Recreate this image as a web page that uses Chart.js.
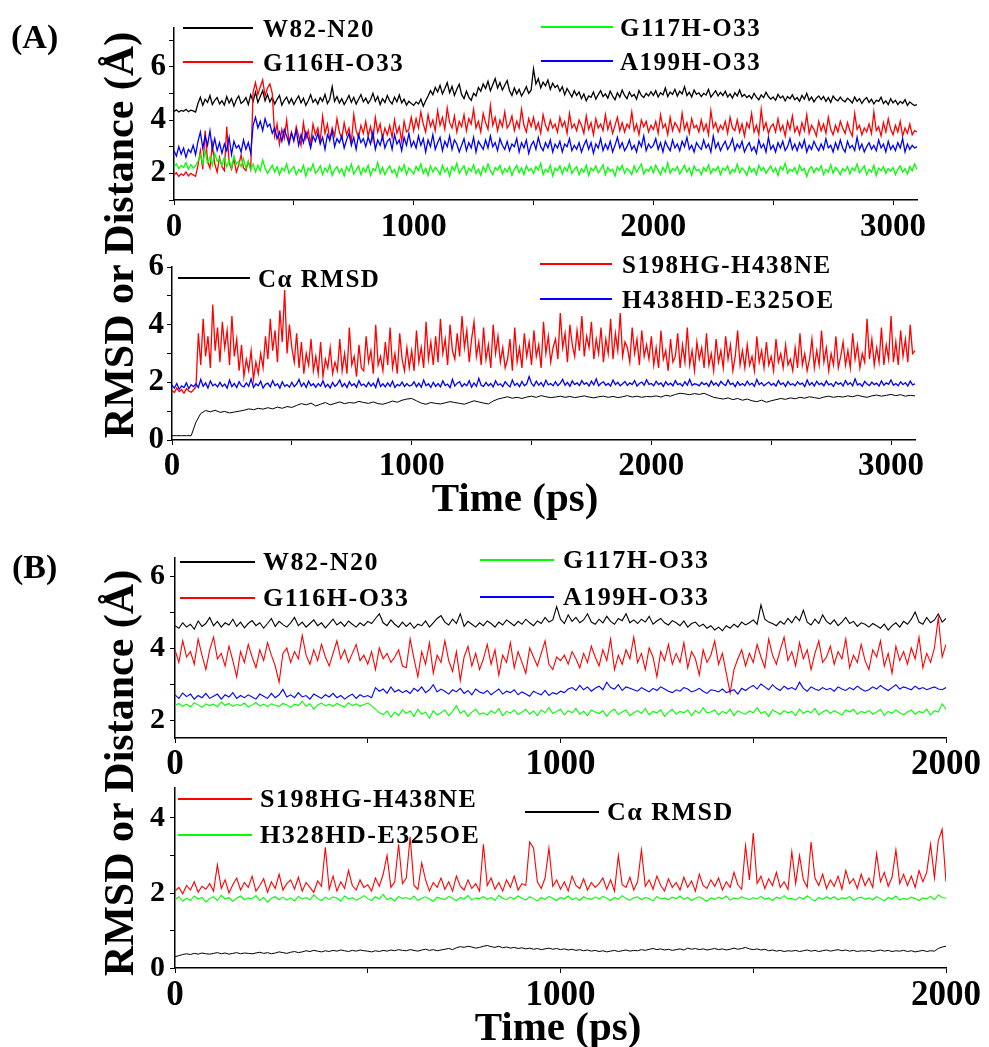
<!DOCTYPE html>
<html>
<head>
<meta charset="utf-8">
<script src="https://cdn.jsdelivr.net/npm/chart.js@4.4.1/dist/chart.umd.min.js"></script>
<style>
  body { margin: 0; background: #fff; }
  #page { position: relative; width: 989px; height: 1047px; overflow: hidden; font-family: "Liberation Serif", "Times New Roman", serif; font-weight: bold; color: #000; }
  #page canvas { position: absolute; left: 0; }
  .txt { position: absolute; white-space: nowrap; }
  .leg { position: absolute; height: 2px; }
</style>
</head>
<body>
<div id="page">
  <canvas id="aTop"></canvas>
  <canvas id="aBot"></canvas>
  <canvas id="bTop"></canvas>
  <canvas id="bBot"></canvas>
</div>
<script>
// ---- panel A : 0..3100 ps, every 10 ps (RMSD every 20 ps) ----
const timeA = Array.from({ length: 311 }, (_, i) => i * 10)
const timeA20 = Array.from({ length: 156 }, (_, i) => i * 20)

const aW82 = [
  4.32,4.38,4.30,4.36,4.33,4.40,4.31,4.37,4.34,4.30,
  4.62,4.85,4.55,4.78,4.66,4.92,4.58,4.74,4.84,4.60,
  4.72,4.56,4.88,4.64,4.80,4.52,4.76,4.90,4.62,4.70,
  4.84,4.58,4.95,4.70,5.05,4.66,4.88,5.10,4.72,4.96,
  4.68,4.85,4.60,4.78,4.92,4.56,4.74,4.86,4.62,4.80,
  4.58,4.76,4.90,4.64,4.82,4.55,4.72,4.95,4.66,4.78,
  4.60,4.84,4.70,4.96,4.62,4.78,5.25,4.70,4.88,4.64,
  4.80,4.58,4.74,4.92,4.66,4.85,4.60,4.78,4.95,4.68,
  4.82,4.62,4.76,5.00,4.70,4.88,4.58,4.80,4.66,4.92,
  4.72,4.60,4.86,4.68,4.94,4.64,4.78,4.56,4.70,4.62,
  4.55,4.68,4.60,4.78,4.52,4.72,4.90,5.10,4.95,5.22,
  5.05,5.30,4.98,5.18,5.40,5.02,5.26,4.92,5.15,5.34,
  4.96,4.80,5.08,4.86,4.74,5.00,4.90,5.22,5.08,5.35,
  5.18,5.45,5.10,5.32,5.55,5.20,5.40,5.12,5.30,5.48,
  5.10,4.92,5.20,4.98,5.15,4.90,5.06,5.25,5.00,5.12,
  5.92,5.35,5.55,5.20,5.42,5.28,5.50,5.15,5.38,5.22,
  5.30,5.08,5.25,4.95,5.18,5.02,4.86,5.10,4.92,5.05,
  4.80,4.98,4.72,4.90,4.85,5.05,4.78,4.95,5.10,4.88,
  4.98,4.82,5.08,4.90,4.76,5.02,4.86,5.12,4.92,4.80,
  5.05,4.88,4.96,4.78,5.10,4.92,4.84,5.00,4.90,5.06,
  4.92,5.10,4.86,5.02,4.94,5.20,4.88,5.05,4.96,5.15,
  4.90,5.08,4.98,5.25,4.92,5.04,4.86,5.12,4.96,5.02,
  4.88,5.00,4.94,5.15,4.86,4.98,5.10,4.90,5.04,4.92,
  5.08,4.86,4.98,4.82,5.02,4.90,5.12,4.88,4.96,4.84,
  4.92,4.80,5.00,4.86,4.76,4.94,4.84,5.04,4.88,4.78,
  4.86,4.74,4.96,4.82,4.90,4.72,4.88,4.80,4.94,4.76,
  4.84,4.70,4.92,4.78,5.00,4.74,4.86,4.68,4.82,4.90,
  4.76,4.88,4.70,4.84,4.66,4.90,4.78,4.72,4.86,4.74,
  4.68,4.82,4.74,4.64,4.86,4.70,4.80,4.62,4.76,4.84,
  4.66,4.78,4.60,4.74,4.70,4.85,4.62,4.72,4.58,4.80,
  4.64,4.74,4.58,4.70,4.62,4.76,4.55,4.68,4.60,4.54,
  4.58
]
const aG116 = [
  1.95,2.02,1.88,1.98,1.92,2.05,1.90,2.00,1.94,1.89,
  2.30,2.85,2.15,3.60,2.45,2.20,3.10,2.35,2.05,2.60,
  2.25,2.10,3.75,2.40,2.15,2.55,2.05,2.30,2.70,2.20,
  2.10,2.45,2.15,5.05,5.40,4.95,5.25,5.50,4.90,5.20,
  5.35,5.00,3.40,3.85,3.10,3.65,3.30,4.00,3.15,3.55,
  3.20,3.75,3.40,3.05,3.90,3.30,3.60,3.10,3.85,3.45,
  3.70,3.20,4.15,3.50,3.85,3.25,3.70,3.40,4.05,3.55,
  3.30,3.90,3.45,3.70,3.15,4.20,3.60,3.35,3.80,3.50,
  3.95,3.40,3.75,3.25,4.10,3.55,3.85,3.30,3.70,3.45,
  3.80,3.35,4.00,3.50,3.75,3.20,3.95,3.55,3.65,4.10,
  3.60,4.05,3.70,4.30,3.85,3.55,4.20,3.75,4.00,3.60,
  4.35,3.80,4.10,3.65,4.45,3.90,3.70,4.15,3.55,3.95,
  3.75,4.20,3.60,4.05,3.85,4.40,3.70,3.95,3.55,4.25,
  3.90,3.65,4.55,3.80,4.10,3.60,4.00,3.75,4.30,3.70,
  3.85,4.15,3.60,3.95,3.70,4.40,3.80,3.55,4.05,3.75,
  4.10,3.65,3.90,3.50,4.20,3.80,3.60,4.00,3.70,3.85,
  3.55,4.10,3.75,3.95,3.50,4.25,3.70,3.85,3.60,4.00,
  3.80,3.50,4.15,3.65,3.90,3.45,4.05,3.70,3.85,3.60,
  4.20,3.65,3.95,3.50,3.80,4.10,3.60,3.90,3.55,3.85,
  3.70,4.30,3.60,3.85,3.45,4.00,3.75,3.95,3.55,3.80,
  3.65,3.95,3.50,4.20,3.70,3.85,3.45,4.10,3.60,3.90,
  3.75,3.55,4.25,3.65,3.90,3.50,4.05,3.70,3.80,3.55,
  4.00,3.60,3.85,3.45,4.35,3.70,3.90,3.55,3.80,3.65,
  3.95,3.50,4.10,3.70,3.60,4.00,3.55,3.85,3.40,3.90,
  3.70,4.25,3.55,3.80,3.45,4.40,3.65,3.90,3.50,3.75,
  3.85,3.55,4.05,3.60,3.80,3.40,3.95,3.65,4.15,3.55,
  3.75,3.45,3.90,3.60,4.20,3.50,3.80,3.65,3.40,3.95,
  3.60,3.85,3.50,4.10,3.65,3.45,3.80,3.55,3.95,3.70,
  3.50,3.90,3.60,3.40,4.25,3.65,3.80,3.45,3.70,3.55,
  3.85,3.50,4.30,3.60,3.75,3.40,3.90,3.55,4.05,3.65,
  3.45,3.80,3.55,3.95,3.40,3.70,3.50,3.85,3.45,3.60,
  3.55
]
const aG117 = [
  2.25,2.35,2.18,2.30,2.22,2.40,2.15,2.32,2.20,2.28,
  2.45,2.70,2.35,2.85,2.40,2.60,2.30,2.75,2.45,2.55,
  2.30,2.60,2.25,2.50,2.20,2.65,2.35,2.45,2.25,2.55,
  2.20,2.45,2.15,2.35,2.05,2.30,2.10,2.50,2.20,2.00,
  2.15,2.30,2.05,2.25,1.95,2.20,2.10,2.35,2.00,2.15,
  2.25,1.95,2.15,2.05,2.30,1.90,2.20,2.10,2.35,2.00,
  2.10,2.28,1.95,2.20,2.05,2.32,1.92,2.15,2.25,2.02,
  2.18,1.90,2.25,2.08,2.35,1.98,2.12,2.28,1.95,2.20,
  2.05,2.30,1.92,2.18,2.10,2.40,2.00,2.22,1.95,2.15,
  2.28,2.02,2.15,1.88,2.25,2.08,2.32,1.95,2.20,2.10,
  1.98,2.25,2.10,2.35,2.00,2.18,1.92,2.28,2.05,2.22,
  2.12,1.95,2.30,2.05,2.20,1.90,2.25,2.10,2.38,2.00,
  2.15,2.28,1.95,2.20,2.08,2.32,2.00,2.15,1.92,2.25,
  2.05,2.35,2.10,1.95,2.22,2.12,2.30,1.98,2.18,2.05,
  2.25,1.92,2.15,2.30,2.02,2.20,1.95,2.28,2.10,2.18,
  2.00,2.25,2.12,2.38,1.95,2.15,2.05,2.30,1.90,2.20,
  2.10,2.28,1.98,2.22,2.08,2.35,2.00,2.15,2.25,1.95,
  2.18,2.05,2.30,1.92,2.20,2.10,2.28,2.02,2.15,2.32,
  1.95,2.22,2.08,2.15,1.90,2.25,2.12,2.30,2.00,2.18,
  2.10,1.95,2.28,2.05,2.20,2.35,1.98,2.15,2.08,2.25,
  2.02,2.30,2.12,1.95,2.22,2.05,2.40,2.00,2.18,2.10,
  2.25,1.98,2.15,2.30,2.05,2.20,1.92,2.28,2.10,2.15,
  1.95,2.22,2.08,2.32,2.00,2.18,2.10,2.25,1.95,2.20,
  2.12,2.28,1.98,2.15,2.05,2.35,2.02,2.20,2.10,1.92,
  2.25,2.05,2.18,1.95,2.30,2.10,2.22,2.00,2.15,2.28,
  2.05,2.20,1.92,2.25,2.12,2.38,2.00,2.15,2.08,2.22,
  1.98,2.30,2.10,2.18,1.88,2.15,2.25,2.02,2.20,2.10,
  2.28,1.95,2.15,2.05,2.32,2.00,2.22,2.12,1.95,2.18,
  2.08,2.25,1.98,2.20,2.10,2.35,2.02,2.15,2.28,1.95,
  2.15,2.05,2.30,1.92,2.20,2.10,2.25,2.00,2.18,2.08,
  2.22,1.95,2.15,2.28,2.05,2.18,1.98,2.25,2.10,2.35,
  2.15
]
const aA199 = [
  2.85,2.65,3.00,2.72,2.95,2.60,2.90,2.78,3.05,2.70,
  3.20,3.55,2.95,3.40,3.05,3.60,2.90,3.30,2.85,3.15,
  2.75,3.10,2.85,3.35,2.70,3.20,2.95,3.05,2.80,3.25,
  2.90,3.15,2.75,3.80,4.10,3.70,3.95,3.60,4.05,3.75,
  3.85,3.50,3.70,3.30,3.55,3.20,3.65,3.40,3.10,3.50,
  3.25,3.60,3.05,3.45,3.15,3.55,3.30,2.95,3.40,3.20,
  3.50,3.10,3.35,2.90,3.45,3.25,3.60,3.00,3.30,3.15,
  3.40,2.95,3.25,3.50,3.05,3.35,2.90,3.45,3.15,3.30,
  3.00,3.35,3.10,3.55,2.90,3.25,3.05,3.40,2.95,3.20,
  3.30,2.90,3.45,3.10,3.25,2.85,3.35,3.05,3.50,3.00,
  3.20,2.95,3.40,3.05,3.30,2.80,3.25,3.00,3.45,2.90,
  3.15,3.35,2.85,3.20,3.00,3.40,2.90,3.25,3.10,2.80,
  3.05,3.30,2.85,3.15,2.95,3.35,2.80,3.20,3.05,2.90,
  3.25,2.95,3.40,3.00,3.15,2.85,3.30,3.05,2.90,3.20,
  2.85,3.10,3.00,3.30,2.80,3.15,2.95,3.25,2.75,3.05,
  3.20,2.90,3.35,3.00,2.85,3.15,2.95,3.25,2.80,3.10,
  2.95,3.20,2.80,3.10,3.00,3.30,2.85,3.05,2.90,3.15,
  2.80,3.05,3.25,2.90,3.15,2.75,3.10,2.95,3.30,2.85,
  3.10,2.90,3.20,2.80,3.05,3.35,2.95,3.15,2.85,3.00,
  3.25,2.90,3.05,2.80,3.20,3.00,3.40,2.85,3.10,2.95,
  3.05,3.30,2.90,3.15,2.80,3.20,3.00,2.85,3.25,2.95,
  3.10,2.85,3.20,3.00,3.35,2.90,3.05,2.80,3.15,3.00,
  2.90,3.25,2.95,3.10,2.80,3.40,2.95,3.15,2.85,3.05,
  3.20,2.90,3.05,3.30,2.85,3.10,2.95,3.20,2.80,3.00,
  3.15,2.85,3.00,2.75,3.25,2.95,3.10,2.80,3.35,2.90,
  3.05,2.80,3.15,2.95,3.20,2.85,3.00,3.30,2.90,3.10,
  2.85,3.15,2.95,3.25,2.80,3.05,2.90,3.20,3.00,2.85,
  3.10,2.90,3.30,2.95,3.05,2.80,3.15,2.90,3.25,2.95,
  2.80,3.20,2.95,3.05,2.85,3.35,2.90,3.10,2.80,3.00,
  3.15,2.90,3.05,2.85,3.25,2.95,3.10,2.80,3.20,2.90,
  3.05,2.85,3.15,2.95,3.30,2.80,3.10,2.90,3.05,2.95,
  3.00
]
const aRmsd = [
  0.15,0.15,0.15,0.15,0.15,0.62,0.92,1.02,0.98,1.03,
  0.96,0.99,0.94,0.97,1.00,1.03,1.08,1.05,1.10,1.07,
  1.12,1.08,1.14,1.10,1.16,1.13,1.20,1.26,1.22,1.28,
  1.18,1.24,1.30,1.22,1.27,1.32,1.26,1.30,1.28,1.34,
  1.30,1.27,1.32,1.26,1.24,1.29,1.35,1.31,1.38,1.42,
  1.44,1.36,1.28,1.24,1.30,1.27,1.25,1.29,1.33,1.30,
  1.27,1.24,1.30,1.36,1.32,1.28,1.25,1.35,1.42,1.46,
  1.50,1.45,1.48,1.44,1.49,1.52,1.48,1.54,1.50,1.47,
  1.49,1.52,1.48,1.51,1.47,1.50,1.53,1.49,1.46,1.50,
  1.52,1.48,1.51,1.47,1.50,1.54,1.49,1.52,1.48,1.51,
  1.50,1.53,1.49,1.55,1.52,1.58,1.62,1.60,1.57,1.61,
  1.58,1.62,1.55,1.48,1.45,1.42,1.46,1.40,1.44,1.38,
  1.42,1.36,1.33,1.38,1.31,1.36,1.40,1.44,1.41,1.46,
  1.43,1.48,1.45,1.50,1.47,1.44,1.49,1.52,1.48,1.51,
  1.49,1.53,1.50,1.55,1.51,1.48,1.53,1.56,1.52,1.55,
  1.58,1.54,1.57,1.52,1.55,1.53
]
const aS198 = [
  1.72,1.65,1.80,1.68,1.75,1.62,1.78,1.70,1.66,1.74,
  1.85,3.70,2.60,4.20,2.90,3.60,2.50,4.70,3.10,3.90,
  2.70,4.10,3.20,3.80,2.60,4.30,2.90,3.50,2.40,3.30,
  2.20,2.80,2.40,3.10,2.10,2.70,2.30,3.00,2.50,3.60,
  2.80,4.20,3.10,3.80,2.70,4.50,3.40,5.20,3.00,4.00,
  3.20,2.70,3.70,2.50,3.40,2.30,3.00,2.60,3.50,2.40,
  2.90,2.30,3.40,2.20,2.80,2.50,3.20,2.30,2.70,2.40,
  3.50,2.40,3.00,2.30,3.90,2.60,2.90,2.20,3.30,2.50,
  2.40,3.60,2.70,3.10,2.30,4.00,2.60,2.90,2.40,3.40,
  2.60,3.90,2.50,3.00,2.30,3.70,2.80,2.40,3.20,2.50,
  3.10,2.40,3.80,2.70,3.20,2.50,4.10,2.80,3.40,2.60,
  3.60,2.70,4.20,3.00,3.50,2.60,4.00,3.10,2.80,3.70,
  2.90,4.30,3.20,3.80,2.70,3.50,4.10,2.90,3.40,2.60,
  3.90,2.80,3.30,2.50,4.00,3.00,3.60,2.70,3.20,2.50,
  2.80,3.50,2.40,3.90,2.70,3.20,2.50,3.70,2.90,3.40,
  2.60,3.80,2.90,3.30,2.50,4.10,3.00,3.60,2.70,3.20,
  3.50,2.80,4.40,3.20,3.70,2.70,4.00,3.30,2.90,3.80,
  3.10,4.30,2.90,3.60,3.20,4.10,2.80,3.50,3.00,3.90,
  2.70,3.50,3.00,4.20,2.80,3.70,3.10,4.40,2.90,3.40,
  3.20,2.70,3.90,3.00,3.50,2.60,3.80,2.90,3.30,2.80,
  3.60,2.60,3.20,2.50,3.80,2.80,3.10,2.40,3.50,2.70,
  2.90,3.70,2.50,3.30,2.70,3.90,2.60,3.10,2.40,3.40,
  2.80,3.20,2.50,3.70,2.60,3.00,2.40,3.50,2.70,3.10,
  2.50,3.60,2.80,3.30,2.40,2.90,3.80,2.60,3.10,2.50,
  3.30,2.60,2.90,2.40,3.60,2.70,3.10,2.50,3.40,2.60,
  2.90,2.40,3.50,2.70,3.00,2.50,3.30,2.60,2.80,2.40,
  3.20,2.50,3.70,2.60,3.00,2.40,2.80,3.50,2.50,3.10,
  2.60,3.80,2.70,3.20,2.40,3.00,2.60,3.60,2.50,2.90,
  3.40,2.60,3.10,2.50,3.70,2.80,3.30,2.50,3.00,2.70,
  4.20,2.80,3.50,2.60,3.20,2.70,3.90,2.60,3.30,2.80,
  4.30,2.70,3.40,2.60,3.80,2.90,3.50,2.70,4.00,3.00,
  3.10
]
const aH438 = [
  1.90,1.80,1.96,1.76,1.88,1.82,1.98,1.78,1.92,1.85,
  1.95,1.82,2.10,1.86,1.98,1.80,2.05,1.88,1.94,1.84,
  2.00,1.86,1.94,1.80,2.08,1.85,1.96,1.82,2.02,1.88,
  1.84,1.98,1.86,2.12,1.82,1.95,1.88,2.04,1.80,1.93,
  1.97,1.84,2.06,1.88,1.95,1.80,2.02,1.86,1.92,1.83,
  2.00,1.85,1.94,2.10,1.86,1.98,1.82,2.04,1.88,1.95,
  1.83,1.96,1.87,2.05,1.84,1.93,1.80,2.00,1.86,1.94,
  2.08,1.85,1.96,1.82,2.02,1.88,1.95,1.83,2.06,1.89,
  1.94,1.84,2.00,1.87,1.97,1.82,2.12,1.86,1.95,1.84,
  1.98,1.86,2.04,1.82,1.93,1.88,2.01,1.85,1.96,1.87,
  1.90,2.02,1.85,1.97,1.83,2.08,1.88,1.95,1.82,2.00,
  1.86,1.96,1.84,2.05,1.89,1.94,1.81,2.10,1.87,1.97,
  2.02,1.85,1.95,1.88,2.06,1.83,1.98,1.86,2.14,1.90,
  1.86,2.00,1.88,1.96,1.84,2.05,1.90,1.95,1.85,2.02,
  1.92,1.84,2.08,1.89,1.97,1.85,2.03,1.88,1.95,2.20,
  1.96,1.87,2.04,1.90,1.99,1.86,2.07,1.91,1.96,1.88,
  2.02,1.88,1.97,2.10,1.90,2.00,1.86,2.05,1.92,1.98,
  1.89,2.06,1.93,1.99,1.87,2.04,1.91,2.12,1.88,1.97,
  2.02,1.90,1.96,1.87,2.08,1.92,2.00,1.88,1.95,2.03,
  1.89,1.98,1.92,2.06,1.87,1.96,2.01,1.90,2.09,1.93,
  1.96,1.88,2.04,1.92,1.98,1.86,2.02,1.91,1.97,1.88,
  2.06,1.92,1.96,1.87,2.02,1.90,2.10,1.89,1.95,1.93,
  1.88,2.00,1.92,1.97,1.86,2.05,1.91,1.98,1.87,2.03,
  1.94,1.89,2.08,1.92,1.97,1.85,2.02,1.90,1.96,1.88,
  2.04,1.91,1.97,1.86,2.10,1.92,1.99,1.88,1.95,2.01,
  1.90,1.96,1.87,2.06,1.92,1.98,1.86,2.03,1.91,1.95,
  1.88,2.02,1.93,1.97,1.85,2.08,1.90,1.99,1.87,2.04,
  1.92,1.97,1.88,2.05,1.91,1.96,1.86,2.02,1.93,1.98,
  1.87,2.06,1.92,1.99,1.88,2.12,1.91,1.96,1.86,2.03,
  1.94,1.89,2.01,1.92,1.97,1.87,2.05,1.90,1.98,1.93,
  2.08,1.90,1.96,1.88,2.02,1.92,1.99,1.87,2.04,1.91,
  1.95
]

// ---- panel B : 0..2000 ps every 10 ps ----
const timeB = Array.from({ length: 201 }, (_, i) => i * 10)

const bW82 = [
  4.62,4.55,4.70,4.58,4.66,4.52,4.75,4.60,4.68,4.85,
  4.62,4.74,4.58,4.70,4.64,4.80,4.60,4.72,4.56,4.68,
  4.76,4.62,4.70,4.55,4.68,4.82,4.60,4.74,4.65,4.58,
  4.70,4.85,4.62,4.72,4.58,4.68,4.78,4.62,4.70,4.56,
  4.68,4.80,4.64,4.72,4.60,4.75,4.66,4.58,4.70,4.62,
  4.74,4.68,4.82,4.95,4.70,4.62,4.78,4.66,4.58,4.72,
  4.60,4.70,4.55,4.66,4.62,4.75,4.58,4.70,4.82,4.90,
  4.72,4.64,4.80,4.68,4.95,4.60,4.74,4.66,4.58,4.70,
  4.62,4.75,4.68,4.58,4.72,4.64,4.78,4.70,4.62,4.74,
  4.66,4.80,4.70,4.62,4.75,4.68,4.85,4.72,4.78,5.15,
  4.80,4.68,4.92,4.74,4.85,4.70,4.78,4.95,4.72,4.66,
  4.80,4.70,4.88,4.74,4.66,4.82,4.76,4.95,4.70,4.78,
  4.68,4.80,4.72,4.88,4.66,4.75,4.82,4.70,4.64,4.76,
  4.70,4.62,4.75,4.58,4.68,4.72,4.60,4.66,4.55,4.62,
  4.50,4.58,4.48,4.62,4.55,4.66,4.58,4.72,4.64,4.70,
  4.78,4.66,5.20,4.80,4.72,4.68,4.62,4.74,4.66,4.82,
  4.70,4.88,4.76,5.05,4.72,4.64,4.80,4.68,4.92,4.74,
  4.66,4.78,4.62,4.72,4.85,4.68,4.74,4.60,4.70,4.66,
  4.58,4.68,4.62,4.55,4.66,4.50,4.62,4.70,4.58,4.74,
  4.66,4.80,5.00,4.72,4.66,4.85,4.70,4.78,4.95,4.72,
  4.82
]
const bG116 = [
  3.95,3.60,4.20,3.75,3.90,3.55,4.25,3.80,3.40,3.95,
  4.30,3.70,3.85,3.50,4.05,3.65,3.20,3.90,3.60,4.10,
  3.75,3.45,3.95,3.65,4.15,3.80,3.50,3.05,3.85,4.00,
  3.60,3.90,3.70,4.35,3.80,3.55,3.95,3.65,4.10,3.75,
  3.50,3.85,4.20,3.70,3.95,3.60,3.85,4.10,3.65,3.80,
  3.55,3.90,3.40,4.00,3.70,3.85,3.60,3.75,3.95,3.50,
  3.45,4.25,3.70,3.20,3.90,3.55,4.15,3.30,3.80,3.60,
  4.20,3.65,3.35,3.90,3.10,3.75,4.05,3.50,3.85,3.40,
  3.70,4.10,3.55,3.95,3.25,3.80,3.60,4.15,3.45,3.90,
  3.60,3.30,4.00,3.75,3.50,3.85,4.20,3.55,3.40,3.75,
  3.65,3.80,3.55,3.90,3.70,3.45,3.85,3.60,4.05,3.75,
  3.50,3.95,3.65,4.25,3.40,3.80,3.55,3.95,3.70,4.30,
  3.60,3.85,3.40,4.00,3.75,3.20,3.90,3.65,4.10,3.55,
  3.85,3.60,4.15,3.45,3.90,3.70,3.25,3.95,3.60,3.80,
  4.20,3.55,3.85,3.30,2.75,3.40,3.70,3.95,3.50,3.85,
  3.60,4.10,3.75,3.45,4.25,3.80,3.55,3.95,4.30,3.65,
  3.90,3.50,4.15,3.70,3.95,3.40,3.85,4.20,3.60,3.75,
  4.05,3.55,3.90,3.70,4.25,3.45,3.80,3.60,4.10,3.65,
  3.40,3.95,3.75,4.20,3.50,3.85,3.30,4.05,3.65,3.90,
  3.55,4.00,3.70,4.30,3.45,3.85,3.60,4.00,4.85,3.75,
  4.10
]
const bG117 = [
  2.40,2.46,2.38,2.44,2.36,2.48,2.42,2.35,2.45,2.40,
  2.44,2.37,2.50,2.41,2.46,2.38,2.43,2.40,2.47,2.36,
  2.42,2.48,2.39,2.44,2.37,2.45,2.41,2.38,2.46,2.42,
  2.35,2.44,2.40,2.52,2.38,2.45,2.30,2.42,2.47,2.39,
  2.44,2.38,2.46,2.41,2.36,2.48,2.40,2.45,2.38,2.43,
  2.47,2.40,2.30,2.20,2.15,2.25,2.08,2.22,2.12,2.28,
  2.18,2.25,2.10,2.30,2.16,2.22,2.05,2.26,2.14,2.20,
  2.28,2.12,2.24,2.40,2.18,2.26,2.10,2.22,2.30,2.16,
  2.20,2.14,2.26,2.18,2.32,2.12,2.24,2.19,2.28,2.15,
  2.22,2.30,2.16,2.25,2.12,2.28,2.20,2.35,2.18,2.24,
  2.30,2.14,2.26,2.20,2.32,2.16,2.24,2.12,2.28,2.22,
  2.18,2.26,2.10,2.24,2.30,2.15,2.22,2.28,2.12,2.20,
  2.26,2.18,2.32,2.14,2.24,2.20,2.28,2.10,2.22,2.30,
  2.16,2.24,2.20,2.28,2.12,2.26,2.18,2.34,2.20,2.22,
  2.28,2.14,2.24,2.18,2.30,2.12,2.26,2.20,2.16,2.25,
  2.20,2.34,2.18,2.24,2.10,2.28,2.22,2.16,2.26,2.20,
  2.24,2.12,2.30,2.18,2.25,2.20,2.32,2.14,2.22,2.28,
  2.18,2.26,2.20,2.14,2.28,2.22,2.30,2.16,2.24,2.20,
  2.26,2.16,2.22,2.30,2.12,2.24,2.18,2.28,2.20,2.14,
  2.22,2.28,2.16,2.24,2.20,2.30,2.14,2.26,2.22,2.45,
  2.30
]
const bA199 = [
  2.70,2.60,2.75,2.65,2.72,2.58,2.68,2.62,2.74,2.60,
  2.66,2.72,2.58,2.70,2.64,2.76,2.60,2.68,2.62,2.70,
  2.64,2.58,2.72,2.66,2.60,2.74,2.62,2.70,2.85,2.64,
  2.70,2.62,2.76,2.64,2.68,2.58,2.72,2.66,2.60,2.70,
  2.64,2.74,2.62,2.68,2.58,2.66,2.72,2.60,2.70,2.64,
  2.68,2.62,2.90,2.80,2.86,2.74,2.92,2.78,2.84,2.76,
  2.82,2.74,2.88,2.80,2.92,2.76,2.84,2.98,2.78,2.86,
  2.80,2.72,2.84,2.78,2.88,2.74,2.82,2.70,2.86,2.78,
  2.74,2.82,2.70,2.78,2.86,2.72,2.80,2.76,2.84,2.70,
  2.78,2.72,2.66,2.80,2.74,2.70,2.82,2.68,2.76,2.72,
  2.80,2.76,2.86,2.90,2.82,2.96,2.84,2.92,2.80,2.88,
  2.94,2.84,3.05,2.90,2.86,2.98,2.82,2.92,2.88,2.84,
  2.80,2.90,2.84,2.78,2.88,2.82,2.92,2.86,2.80,2.76,
  2.84,2.80,2.90,2.86,2.78,2.82,2.88,2.80,2.74,2.84,
  2.82,2.78,2.86,2.76,2.80,2.84,2.72,2.88,2.82,2.90,
  2.96,2.86,3.00,2.92,2.84,2.98,2.88,2.82,2.94,2.86,
  2.90,2.84,3.05,2.88,2.80,2.92,2.86,2.82,2.90,2.84,
  2.88,2.80,2.92,2.86,2.82,2.90,2.84,2.94,2.86,2.80,
  2.84,2.92,2.86,2.96,2.88,2.82,2.90,2.98,2.86,2.92,
  2.88,2.84,2.94,2.86,2.90,2.84,2.88,2.92,2.86,2.84,
  2.90
]
const bRmsd = [
  0.30,0.33,0.36,0.38,0.36,0.39,0.37,0.40,0.38,0.37,
  0.39,0.41,0.38,0.40,0.37,0.39,0.41,0.38,0.40,0.39,
  0.38,0.40,0.42,0.39,0.41,0.38,0.40,0.43,0.41,0.39,
  0.42,0.44,0.41,0.43,0.46,0.44,0.47,0.45,0.43,0.46,
  0.44,0.47,0.45,0.48,0.46,0.44,0.47,0.45,0.48,0.46,
  0.45,0.43,0.46,0.44,0.47,0.45,0.48,0.46,0.49,0.47,
  0.46,0.49,0.47,0.45,0.48,0.50,0.47,0.49,0.46,0.48,
  0.50,0.52,0.49,0.54,0.57,0.55,0.58,0.56,0.53,0.55,
  0.58,0.60,0.57,0.55,0.58,0.54,0.56,0.53,0.55,0.52,
  0.54,0.51,0.53,0.50,0.52,0.49,0.51,0.53,0.50,0.52,
  0.49,0.51,0.48,0.50,0.47,0.49,0.46,0.48,0.45,0.47,
  0.44,0.46,0.43,0.45,0.47,0.44,0.46,0.48,0.45,0.47,
  0.46,0.49,0.47,0.50,0.52,0.49,0.51,0.48,0.50,0.47,
  0.49,0.51,0.48,0.53,0.50,0.52,0.49,0.51,0.48,0.50,
  0.52,0.49,0.51,0.48,0.50,0.53,0.50,0.52,0.55,0.51,
  0.49,0.51,0.48,0.50,0.46,0.48,0.45,0.47,0.44,0.46,
  0.45,0.47,0.44,0.46,0.48,0.45,0.47,0.44,0.46,0.48,
  0.45,0.47,0.49,0.46,0.48,0.45,0.47,0.44,0.46,0.45,
  0.47,0.44,0.46,0.48,0.45,0.47,0.44,0.46,0.45,0.47,
  0.44,0.46,0.43,0.45,0.47,0.44,0.46,0.45,0.52,0.56,
  0.58
]
const bS198 = [
  2.05,2.15,1.98,2.20,2.08,2.30,2.02,2.18,2.10,2.25,
  2.05,2.75,2.12,2.35,2.00,2.22,2.40,2.08,2.28,2.15,
  2.45,2.05,2.20,2.38,2.02,2.30,2.12,2.50,2.08,2.25,
  2.35,2.10,2.42,2.05,2.28,2.15,2.02,2.32,2.18,3.22,
  2.10,2.45,2.05,2.30,2.12,2.60,2.20,2.08,2.35,2.15,
  2.22,2.05,2.40,2.18,2.50,3.00,2.15,2.30,3.30,2.25,
  2.40,3.50,2.20,2.10,2.80,2.35,2.05,2.28,2.15,2.40,
  2.10,2.30,2.05,2.45,2.18,2.08,2.35,2.12,2.25,2.05,
  3.30,2.20,2.40,2.10,2.28,2.05,2.35,2.15,2.45,2.08,
  2.25,2.20,3.36,3.20,2.30,2.12,2.40,3.20,2.18,2.35,
  2.10,2.30,2.05,2.45,2.20,2.12,2.38,2.08,2.28,2.15,
  2.25,2.40,2.10,2.35,2.05,3.00,2.22,2.15,2.42,2.08,
  2.30,3.15,2.18,2.35,2.10,2.45,2.20,2.05,2.38,2.15,
  2.28,2.08,2.42,2.15,2.32,2.05,2.50,2.20,2.12,2.35,
  2.18,2.40,2.08,2.30,2.15,2.55,2.22,2.10,3.26,2.35,
  3.60,2.25,2.45,2.12,2.38,2.20,2.55,2.15,2.30,2.10,
  3.10,2.25,3.00,2.35,2.15,3.36,2.40,2.20,2.50,2.12,
  2.35,2.18,2.45,2.10,2.60,2.25,2.38,2.12,2.50,2.20,
  2.40,2.15,3.05,2.30,2.55,2.18,2.42,3.15,2.25,2.50,
  2.20,2.45,2.15,2.60,2.30,2.55,3.30,2.40,3.40,3.70,
  2.30
]
const bH328 = [
  1.82,1.90,1.78,1.86,1.80,1.92,1.84,1.88,1.76,1.85,
  1.90,1.80,1.94,1.84,1.88,1.78,1.86,1.92,1.82,1.87,
  1.84,1.93,1.80,1.88,1.75,1.86,1.90,1.82,1.89,1.81,
  1.87,1.79,1.91,1.84,1.88,1.82,1.95,1.85,1.80,1.89,
  1.83,1.90,1.86,1.78,1.92,1.84,1.88,1.81,1.86,1.93,
  1.85,1.80,1.90,1.84,1.96,1.82,1.87,1.79,1.91,1.85,
  1.88,1.83,1.92,1.80,1.86,1.90,1.84,1.78,1.89,1.85,
  1.82,1.91,1.86,1.79,1.88,1.84,1.93,1.81,1.87,1.85,
  1.90,1.83,1.88,1.80,1.94,1.86,1.82,1.89,1.84,1.92,
  1.86,1.81,1.90,1.85,1.79,1.88,1.83,1.91,1.86,1.80,
  1.88,1.84,1.92,1.82,1.87,1.80,1.90,1.85,1.83,1.89,
  1.84,1.91,1.86,1.80,1.88,1.83,1.93,1.85,1.81,1.87,
  1.90,1.82,1.88,1.85,1.79,1.91,1.84,1.87,1.82,1.89,
  1.85,1.92,1.83,1.88,1.80,1.86,1.90,1.84,1.78,1.87,
  1.83,1.89,1.85,1.92,1.81,1.87,1.84,1.90,1.86,1.82,
  1.88,1.84,1.91,1.83,1.87,1.80,1.89,1.85,1.93,1.84,
  1.86,1.81,1.89,1.84,1.92,1.85,1.79,1.88,1.83,1.90,
  1.84,1.90,1.82,1.87,1.85,1.91,1.80,1.86,1.89,1.83,
  1.87,1.82,1.90,1.85,1.79,1.88,1.84,1.92,1.81,1.86,
  1.83,1.89,1.85,1.80,1.87,1.84,1.91,1.82,1.95,1.88,
  1.86
]

// tick values
const xTicksA = [0, 500, 1000, 1500, 2000, 2500, 3000]
const xLabelsA = [0, 1000, 2000, 3000]
const xTicksB = [0, 500, 1000, 1500, 2000]
const xLabelsB = [0, 1000, 2000]
const yTicksATop = [1, 2, 3, 4, 5, 6, 7]
const yTicksABot = [0, 1, 2, 3, 4, 5, 6]
const yTicksBTop = [2, 3, 4, 5, 6]
const yTicksBBot = [0, 1, 2, 3, 4]
const yLabels = [0, 2, 4, 6]

const FONT = '"Liberation Serif", "Times New Roman", serif'
const PAD_TOP = 24
const X_H = 55

function panel(id, p) {
  const cv = document.getElementById(id)
  const h = PAD_TOP + (p.area.bottom - p.area.top) + X_H
  cv.width = 989
  cv.height = h
  cv.style.top = (p.area.top - PAD_TOP) + 'px'
  cv.style.width = '989px'
  cv.style.height = h + 'px'

  const sets = p.series.map(s => {
    const t = s.time || p.time
    return {
      data: s.values.map((v, i) => ({ x: t[i], y: v })),
      borderColor: s.color,
      borderWidth: s.width || p.lineWidth,
      pointRadius: 0,
      tension: 0,
      order: s.order
    }
  })

  new Chart(cv, {
    type: 'line',
    data: { datasets: sets },
    options: {
      responsive: false,
      animation: false,
      events: [],
      layout: { padding: { top: PAD_TOP, right: 989 - p.area.right, left: 0, bottom: 0 } },
      plugins: { legend: { display: false }, tooltip: { enabled: false } },
      scales: {
        x: {
          type: 'linear', min: 0, max: p.xMax,
          afterBuildTicks: s => { s.ticks = p.xTicks.map(v => ({ value: v })) },
          afterFit: s => { s.height = X_H },
          grid: { drawOnChartArea: false, tickLength: 5, color: '#000', lineWidth: 1 },
          border: { color: '#000', width: 1.5 },
          ticks: {
            autoSkip: false, maxRotation: 0, padding: p.xPad, color: '#000',
            font: { family: FONT, weight: 'bold', size: p.xFont },
            callback: v => p.xLabels.includes(v) ? String(v) : ''
          }
        },
        y: {
          min: p.yMin, max: p.yMax,
          afterBuildTicks: s => { s.ticks = p.yTicks.map(v => ({ value: v })) },
          afterFit: s => { s.width = p.area.left },
          grid: { drawOnChartArea: false, tickLength: 5, color: '#000', lineWidth: 1 },
          border: { color: '#000', width: 1.5 },
          ticks: {
            autoSkip: false, padding: p.yPad, color: '#000',
            font: { family: FONT, weight: 'bold', size: p.yFont },
            callback: v => yLabels.includes(v) ? String(v) : ''
          }
        }
      }
    }
  })
}

panel('aTop', {
  area: { left: 174, right: 917, top: 28, bottom: 200 },
  time: timeA, xMax: 3100, yMin: 1, yMax: 7.45, lineWidth: 1.3,
  xTicks: xTicksA, xLabels: xLabelsA, yTicks: yTicksATop,
  xFont: 33, yFont: 31, xPad: 3, yPad: 3,
  series: [
    { values: aW82, color: '#000000', order: 3 },
    { values: aG116, color: '#ff0000', order: 2 },
    { values: aA199, color: '#0000ff', order: 1 },
    { values: aG117, color: '#00ff00', order: 0 }
  ]
})
panel('aBot', {
  area: { left: 172, right: 915, top: 267, bottom: 440 },
  time: timeA, xMax: 3100, yMin: 0, yMax: 6, lineWidth: 1.3,
  xTicks: xTicksA, xLabels: xLabelsA, yTicks: yTicksABot,
  xFont: 33, yFont: 31, xPad: 2, yPad: 3,
  series: [
    { values: aRmsd, time: timeA20, width: 1, color: '#000000', order: 2 },
    { values: aS198, color: '#ff0000', order: 1 },
    { values: aH438, color: '#0000ff', order: 0 }
  ]
})
panel('bTop', {
  area: { left: 175, right: 946, top: 558, bottom: 738 },
  time: timeB, xMax: 2000, yMin: 1.5, yMax: 6.5, lineWidth: 1.1,
  xTicks: xTicksB, xLabels: xLabelsB, yTicks: yTicksBTop,
  xFont: 35, yFont: 30, xPad: 1, yPad: 5,
  series: [
    { values: bW82, color: '#000000', order: 3 },
    { values: bG116, color: '#ff0000', order: 2 },
    { values: bA199, color: '#0000ff', order: 1 },
    { values: bG117, color: '#00ff00', order: 0 }
  ]
})
panel('bBot', {
  area: { left: 175, right: 946, top: 788, bottom: 968 },
  time: timeB, xMax: 2000, yMin: 0, yMax: 4.8, lineWidth: 1.1,
  xTicks: xTicksB, xLabels: xLabelsB, yTicks: yTicksBBot,
  xFont: 35, yFont: 30, xPad: 2, yPad: 5,
  series: [
    { values: bRmsd, width: 1, color: '#000000', order: 2 },
    { values: bS198, color: '#ff0000', order: 1 },
    { values: bH328, color: '#00ff00', order: 0 }
  ]
})

// text and legends
const page = document.getElementById('page')

function text(str, x, y, size, opts = {}) {
  const d = document.createElement('div')
  d.className = 'txt'
  d.textContent = str
  d.style.fontSize = size + 'px'
  d.style.lineHeight = size + 'px'
  d.style.top = (y - size / 2) + 'px'
  if (opts.spacing) d.style.letterSpacing = opts.spacing + 'px'
  if (opts.center) {
    d.style.width = '600px'
    d.style.textAlign = 'center'
    d.style.left = (x - 300) + 'px'
  } else {
    d.style.left = x + 'px'
  }
  if (opts.rotate) d.style.transform = 'rotate(-90deg)'
  page.appendChild(d)
}

function legend(x1, x2, y, color, label, tx, size) {
  const l = document.createElement('div')
  l.className = 'leg'
  l.style.left = x1 + 'px'
  l.style.top = (Math.round(y) - 1) + 'px'
  l.style.width = (x2 - x1) + 'px'
  l.style.background = color
  page.appendChild(l)
  text(label, tx, y, size, { spacing: 1.5 })
}

text('(A)', 11, 37, 34)
text('(B)', 12, 567, 34)

text('RMSD or Distance (\u00C5)', 119, 235, 42, { center: true, rotate: true })
text('RMSD or Distance (\u00C5)', 119, 773, 42, { center: true, rotate: true })
text('Time (ps)', 515, 497, 41, { center: true })
text('Time (ps)', 558, 1026, 41, { center: true })

legend(183, 253, 28, '#000000', 'W82-N20', 263, 25)
legend(183, 253, 62, '#ff0000', 'G116H-O33', 263, 25)
legend(541, 613, 27, '#00ff00', 'G117H-O33', 620, 25)
legend(541, 613, 61, '#0000ff', 'A199H-O33', 620, 25)

legend(178, 250, 278, '#000000', 'C\u03B1 RMSD', 258, 25)
legend(540, 612, 264, '#ff0000', 'S198HG-H438NE', 622, 25)
legend(540, 612, 299, '#0000ff', 'H438HD-E325OE', 622, 25)

legend(180, 255, 562, '#000000', 'W82-N20', 263, 26)
legend(180, 255, 598, '#ff0000', 'G116H-O33', 263, 26)
legend(480, 554, 560, '#00ff00', 'G117H-O33', 563, 26)
legend(480, 554, 597, '#0000ff', 'A199H-O33', 563, 26)

legend(178, 252, 799, '#ff0000', 'S198HG-H438NE', 260, 26)
legend(178, 252, 835, '#00ff00', 'H328HD-E325OE', 260, 26)
legend(525, 599, 812, '#000000', 'C\u03B1 RMSD', 607, 26)
</script>
</body>
</html>
